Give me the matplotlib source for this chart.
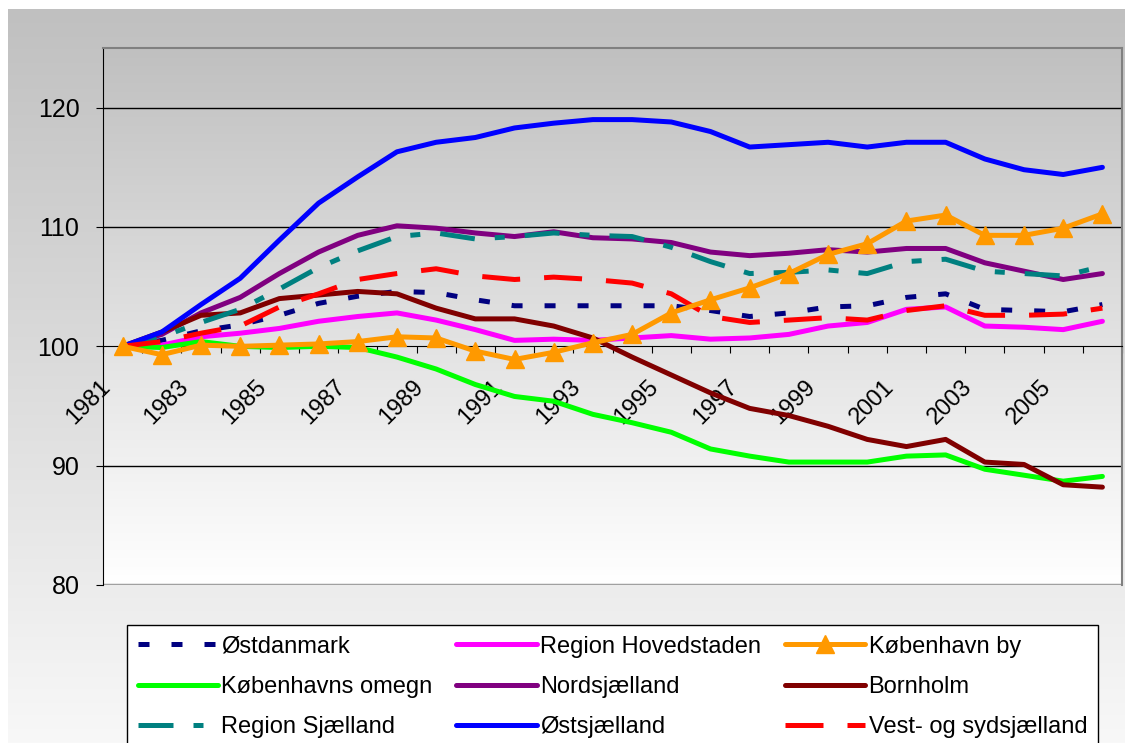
import numpy as np
import matplotlib
from matplotlib import pyplot as plt
from matplotlib.transforms import ScaledTranslation

plt.rcParams['font.family'] = ['Liberation Sans', 'DejaVu Sans']

years = list(range(1981, 2007))

ostdanmark = [100, 100.5, 101.3, 101.8, 102.6, 103.6, 104.2, 104.6, 104.5, 103.9, 103.4, 103.4, 103.4,
              103.4, 103.4, 103.0, 102.5, 102.8, 103.3, 103.4, 104.1, 104.4, 103.1, 103.0, 102.9, 103.5]
hovedstaden = [100, 100.1, 100.8, 101.1, 101.5, 102.1, 102.5, 102.8, 102.2, 101.4, 100.5, 100.6, 100.5,
               100.7, 100.9, 100.6, 100.7, 101.0, 101.7, 102.0, 103.1, 103.3, 101.7, 101.6, 101.4, 102.1]
kbh_by = [100, 99.3, 100.1, 100.0, 100.1, 100.2, 100.4, 100.8, 100.7, 99.6, 98.9, 99.5, 100.3,
          101.0, 102.8, 103.9, 104.9, 106.1, 107.7, 108.6, 110.5, 111.0, 109.3, 109.3, 109.9, 111.1]
kbh_omegn = [100, 99.9, 100.4, 100.0, 99.9, 100.0, 99.9, 99.1, 98.1, 96.8, 95.8, 95.4, 94.3,
             93.6, 92.8, 91.4, 90.8, 90.3, 90.3, 90.3, 90.8, 90.9, 89.7, 89.2, 88.7, 89.1]
nordsj = [100, 101.0, 102.8, 104.1, 106.1, 107.9, 109.3, 110.1, 109.9, 109.5, 109.2, 109.6, 109.1,
          109.0, 108.7, 107.9, 107.6, 107.8, 108.1, 107.9, 108.2, 108.2, 107.0, 106.3, 105.6, 106.1]
bornholm = [100, 101.2, 102.6, 102.8, 104.0, 104.3, 104.6, 104.4, 103.2, 102.3, 102.3, 101.7, 100.7,
            99.1, 97.6, 96.1, 94.8, 94.2, 93.3, 92.2, 91.6, 92.2, 90.3, 90.1, 88.4, 88.2]
region_sj = [100, 100.8, 102.0, 103.1, 104.8, 106.6, 108.0, 109.2, 109.5, 109.0, 109.2, 109.5, 109.3,
             109.2, 108.3, 107.1, 106.1, 106.2, 106.4, 106.1, 107.1, 107.3, 106.3, 106.1, 105.9, 106.7]
ostsj = [100, 101.2, 103.5, 105.7, 108.9, 112.0, 114.2, 116.3, 117.1, 117.5, 118.3, 118.7, 119.0,
         119.0, 118.8, 118.0, 116.7, 116.9, 117.1, 116.7, 117.1, 117.1, 115.7, 114.8, 114.4, 115.0]
vest_sj = [100, 100.4, 101.1, 101.7, 103.3, 104.4, 105.6, 106.1, 106.5, 105.9, 105.6, 105.8, 105.6,
           105.3, 104.4, 102.5, 102.0, 102.2, 102.4, 102.2, 103.0, 103.4, 102.6, 102.6, 102.7, 103.2]

W, H = 1125, 743
fig = plt.figure(figsize=(W / 100, H / 100), dpi=100)
fig.patch.set_facecolor('white')

# chart-area gradient background
bg = fig.add_axes([8 / W, 0, 1 - 8 / W, 1 - 9 / H], zorder=-10)
g = np.linspace(192, 248, 256)[:, None] / 255
bg.imshow(np.dstack([g, g, g]), aspect='auto', extent=(0, 1, 0, 1))
bg.axis('off')

ax = fig.add_axes([103 / W, 1 - 585 / H, (1122 - 103) / W, (585 - 48) / H])
ax.set_facecolor('none')
p = np.linspace(192, 255, 256)[:, None] / 255
ax.imshow(np.dstack([p, p, p]), aspect='auto', extent=(-0.5, 25.5, 80, 125), zorder=0)

x = np.arange(len(years))
lw = 3.6
for yv in (90, 110, 120):
    ax.axhline(yv, color='black', lw=1, zorder=1)

series = [
    ('Østdanmark', ostdanmark, '#000080', (2.2, 4.4)),
    ('Region Hovedstaden', hovedstaden, '#ff00ff', None),
    ('København by', kbh_by, '#ff9900', None),
    ('Københavns omegn', kbh_omegn, '#00ff00', None),
    ('Nordsjælland', nordsj, '#800080', None),
    ('Bornholm', bornholm, '#800000', None),
    ('Region Sjælland', region_sj, '#008080', (7, 4, 2, 4)),
    ('Østsjælland', ostsj, '#0000ff', None),
    ('Vest- og sydsjælland', vest_sj, '#ff0000', (7.6, 4.8)),
]
handles = {}
for i, (name, vals, col, dash) in enumerate(series):
    kw = dict(color=col, lw=lw, label=name, zorder=3 + i * 0.1, solid_capstyle='round')
    if name == 'København by':
        kw.update(marker='^', markersize=13, zorder=4)
    h, = ax.plot(x, vals, **kw)
    if dash is not None:
        h.set_dashes(dash)
        h.set_dash_capstyle('butt')
    handles[name] = h

ax.set_xlim(-0.5, 25.5)
ax.set_ylim(80, 125)

ax.spines['bottom'].set_position(('data', 100))
ax.spines['bottom'].set_color('black')
ax.spines['left'].set_color('black')
for s in ('top', 'right'):
    ax.spines[s].set_color('#808080')
    ax.spines[s].set_linewidth(1.5)
ax.axhline(80, color='#a0a0a0', lw=2.5, zorder=2)

ax.set_xticks(np.arange(-0.5, 26, 1))
ax.set_xticklabels([])
ax.set_xticks(x[::2], labels=[str(y) for y in years[::2]], minor=True)
ax.tick_params(axis='x', which='major', length=5, direction='out', color='black')
ax.tick_params(axis='x', which='minor', length=0, pad=21, labelsize=17)
for lab in ax.get_xticklabels(minor=True):
    lab.set_rotation(45)
    lab.set_ha('right')
    lab.set_va('top')
    lab.set_transform(lab.get_transform() + ScaledTranslation(-0.08, 0, fig.dpi_scale_trans))

ax.set_yticks([80, 90, 100, 110, 120])
ax.tick_params(axis='y', length=5, pad=12, labelsize=18)

order = ['Østdanmark', 'Københavns omegn', 'Region Sjælland',
         'Region Hovedstaden', 'Nordsjælland', 'Østsjælland',
         'København by', 'Bornholm', 'Vest- og sydsjælland']
leg = fig.legend([handles[n] for n in order], order, ncol=3, loc='upper left',
                 bbox_to_anchor=(127 / W, 1 - 625 / H), fontsize=17, frameon=True,
                 fancybox=False, edgecolor='black', facecolor='white', framealpha=1,
                 handlelength=3.4, handletextpad=0.15, columnspacing=1.0,
                 labelspacing=0.78, borderpad=0.45, borderaxespad=0)
leg.get_frame().set_linewidth(1)

plt.savefig('out.png', dpi=100)
